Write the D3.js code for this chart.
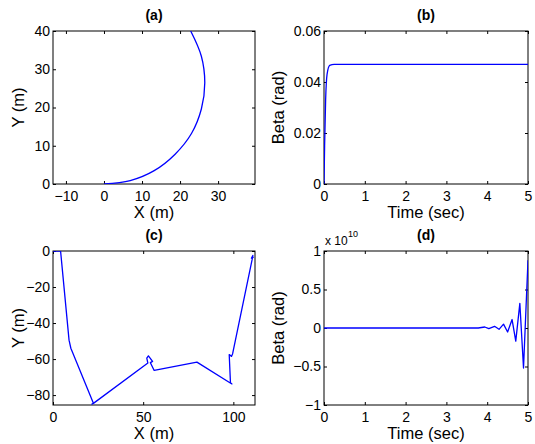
<!DOCTYPE html>
<html>
<head>
<meta charset="utf-8">
<script src="https://cdn.jsdelivr.net/npm/d3@7"></script>
<style>
  body { margin: 0; background: #fff; }
  svg text { font-family: "Liberation Sans", Arial, sans-serif; fill: #000; }
  .tick text { font-size: 14px; }
  .tick line { stroke: #000; }
</style>
</head>
<body>
<div id="chart"></div>
<script>
// (a) vehicle path, X/Y in metres
let pathAX = [0, 6.9, 13.2, 18.7, 23.0, 25.6, 26.5, 25.6, 22.8];
let pathAY = [0, 0.9, 3.5, 7.8, 13.2, 19.6, 26.5, 33.4, 40];
// (b) slip angle vs time
let timeB = [0, 0.015, 0.04, 0.075, 0.14, 0.25, 5];
let betaB = [0, 0.015, 0.033, 0.043, 0.0465, 0.0469, 0.0469];
// (c) unstable path
let pathCX = [0, 4.2, 8.9, 9.9, 22.4, 21.6, 23.2, 22.4, 52.6, 52, 52.9, 55.2, 54, 56.1, 79.8, 98.3, 99.2, 98.4, 97.7, 99, 99.6, 110.4, 110.8, 110, 111, 110.4];
let pathCY = [0, 0, -49.5, -54, -84.5, -85, -84, -84.6, -62.2, -59.5, -58.2, -61.3, -62, -66.3, -61.7, -73.3, -73.8, -73.2, -57.5, -58.5, -57, -4.8, -2.5, -4, -3.5, -3];
// (d) slip angle vs time (x 1e10)
let timeD = [0, 3.78, 3.94, 4.04, 4.18, 4.29, 4.40, 4.50, 4.61, 4.70, 4.80, 4.89, 5.0];
let betaD = [0, 0, 0.013, -0.009, 0.022, -0.017, 0.05, -0.052, 0.11, -0.17, 0.32, -0.52, 0.88];

let aXTicks = [-10, 0, 10, 20, 30], aYTicks = [0, 10, 20, 30, 40];
let bXTicks = [0, 1, 2, 3, 4, 5], bYTicks = [0, 0.02, 0.04, 0.06];
let cXTicks = [0, 50, 100], cYTicks = [-80, -60, -40, -20, 0];
let dXTicks = [0, 1, 2, 3, 4, 5], dYTicks = [-1, -0.5, 0, 0.5, 1];

let width = 535, height = 444;
let svg = d3.select("#chart").append("svg")
    .attr("width", width)
    .attr("height", height);

let fmt = d => String(d).replace("-", "\u2212");

function drawPanel(p) {
    let x = d3.scaleLinear().domain(p.xDomain).range([p.left, p.right]);
    let y = d3.scaleLinear().domain(p.yDomain).range([p.bottom, p.top]);
    let g = svg.append("g");

    let clipId = "clip-" + p.name;
    g.append("clipPath").attr("id", clipId)
        .append("rect")
        .attr("x", p.left).attr("y", p.top)
        .attr("width", p.right - p.left).attr("height", p.bottom - p.top);

    // ticks inside, mirrored on all sides (matlab box on)
    let axes = [
        [d3.axisBottom(x).tickValues(p.xTicks).tickFormat(fmt).tickPadding(7), p.bottom, true],
        [d3.axisTop(x).tickValues(p.xTicks).tickFormat(""), p.top, true],
        [d3.axisLeft(y).tickValues(p.yTicks).tickFormat(fmt).tickPadding(3), p.left, false],
        [d3.axisRight(y).tickValues(p.yTicks).tickFormat(""), p.right, false]
    ];
    axes.forEach(([ax, pos, horiz]) => {
        let a = g.append("g")
            .attr("transform", horiz ? `translate(0,${pos})` : `translate(${pos},0)`)
            .call(ax.tickSizeInner(-3).tickSizeOuter(0));
        a.select(".domain").remove();
        a.attr("font-family", null).attr("font-size", null);
    });

    g.append("rect")
        .attr("x", p.left).attr("y", p.top)
        .attr("width", p.right - p.left).attr("height", p.bottom - p.top)
        .attr("fill", "none").attr("stroke", "#000").attr("stroke-width", 1);

    let line = d3.line()
        .x(d => x(d[0]))
        .y(d => y(d[1]))
        .curve(p.curve || d3.curveLinear);

    g.append("path")
        .datum(d3.zip(p.xs, p.ys))
        .attr("clip-path", `url(#${clipId})`)
        .attr("d", line)
        .attr("fill", "none")
        .attr("stroke", "#0000ff")
        .attr("stroke-width", 1.3)
        .attr("stroke-linejoin", "round");

    let cx = (p.left + p.right) / 2;
    g.append("text")
        .attr("x", cx).attr("y", p.top - 11)
        .attr("text-anchor", "middle")
        .attr("font-size", "14px").attr("font-weight", "bold")
        .text(p.title);
    g.append("text")
        .attr("x", cx).attr("y", p.bottom + 34)
        .attr("text-anchor", "middle")
        .attr("font-size", "16.5px")
        .text(p.xLabel);
    g.append("text")
        .attr("transform", `translate(${p.yLabelX},${(p.top + p.bottom) / 2}) rotate(-90)`)
        .attr("text-anchor", "middle")
        .attr("font-size", "16.5px")
        .text(p.yLabel);
    return g;
}

drawPanel({
    name: "a", left: 53, right: 255, top: 31, bottom: 184,
    xDomain: [-13.4, 39.7], yDomain: [0, 40],
    xTicks: aXTicks, yTicks: aYTicks,
    xs: pathAX, ys: pathAY, curve: d3.curveCatmullRom,
    title: "(a)", xLabel: "X (m)", yLabel: "Y (m)", yLabelX: 24
});

drawPanel({
    name: "b", left: 324, right: 528, top: 31, bottom: 184,
    xDomain: [0, 5], yDomain: [0, 0.06],
    xTicks: bXTicks, yTicks: bYTicks,
    xs: timeB, ys: betaB, curve: d3.curveMonotoneX,
    title: "(b)", xLabel: "Time (sec)", yLabel: "Beta (rad)", yLabelX: 284
});

drawPanel({
    name: "c", left: 53, right: 255, top: 251, bottom: 405,
    xDomain: [0, 112], yDomain: [-85.5, 0],
    xTicks: cXTicks, yTicks: cYTicks,
    xs: pathCX, ys: pathCY,
    title: "(c)", xLabel: "X (m)", yLabel: "Y (m)", yLabelX: 24
});

let gd = drawPanel({
    name: "d", left: 324, right: 528, top: 251, bottom: 405,
    xDomain: [0, 5], yDomain: [-1, 1],
    xTicks: dXTicks, yTicks: dYTicks,
    xs: timeD, ys: betaD,
    title: "(d)", xLabel: "Time (sec)", yLabel: "Beta (rad)", yLabelX: 284
});

// exponent label
gd.append("text")
    .attr("x", 325).attr("y", 245)
    .attr("font-size", "12px")
    .text("x 10");
gd.append("text")
    .attr("x", 348).attr("y", 237)
    .attr("font-size", "9px")
    .text("10");
</script>
</body>
</html>
